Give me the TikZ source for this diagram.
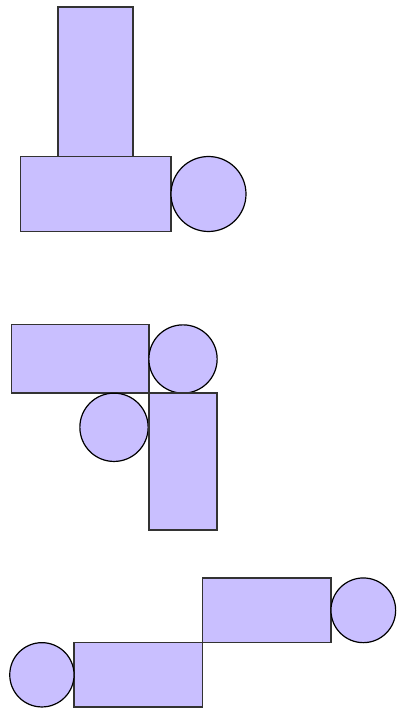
\documentclass[tikz,border=0pt]{standalone}
\begin{document}
\begin{tikzpicture}[x=1pt,y=-1pt,
  shapefill/.style={fill={rgb,255:red,201;green,191;blue,255}},
  blockbox/.style={shapefill,draw=black!80,line width=1.2pt,rectangle,inner sep=0pt,outer sep=0pt},
  roundbox/.style={shapefill,draw=black,line width=1.2pt,circle,inner sep=0pt,outer sep=0pt}]
\useasboundingbox (0,0) rectangle (397,708);
% group 1
\node[blockbox,minimum width=75pt,minimum height=150pt] (t1) at (95.5,82) {};
\node[blockbox,minimum width=150.7pt,minimum height=75.3pt] (w1) at (95.7,194) {};
\node[roundbox,minimum size=75pt] (c1) at (208.5,194) {};
% group 2
\node[blockbox,minimum width=137.7pt,minimum height=68.3pt] (w2) at (80.2,358.9) {};
\node[roundbox,minimum size=68.3pt] (c2) at (183,359) {};
\node[roundbox,minimum size=68.3pt] (c3) at (114,427.3) {};
\node[blockbox,minimum width=68pt,minimum height=137pt] (t2) at (183,461.5) {};
% group 3
\node[blockbox,minimum width=128.3pt,minimum height=64.7pt] (w3) at (266.8,610.3) {};
\node[roundbox,minimum size=64.7pt] (c4) at (363.3,610.3) {};
\node[blockbox,minimum width=128.7pt,minimum height=64.3pt] (w4) at (138.4,674.8) {};
\node[roundbox,minimum size=64.3pt] (c5) at (41.9,674.8) {};
\end{tikzpicture}
\end{document}
